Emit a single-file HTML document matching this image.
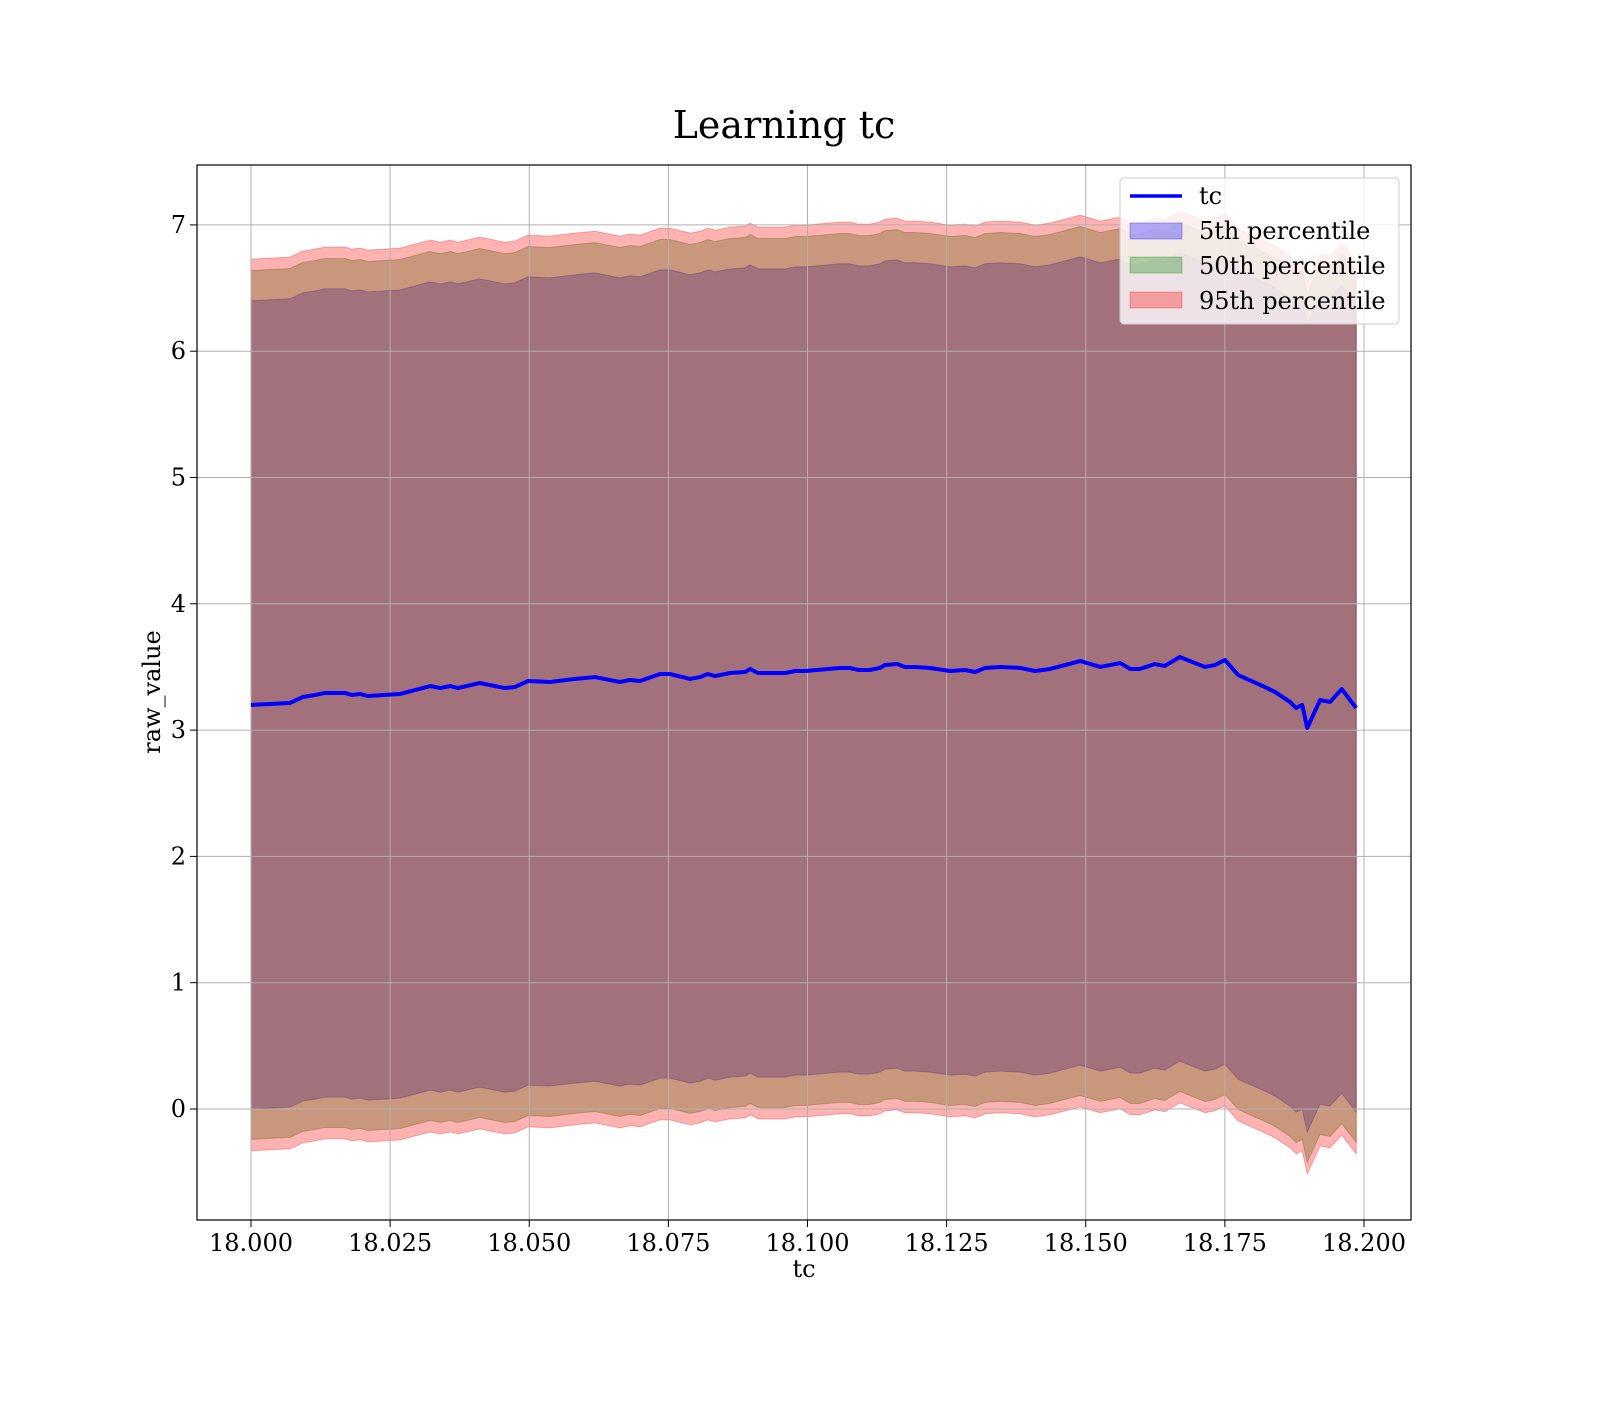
<!DOCTYPE html>
<html><head><meta charset="utf-8"><style>
body{margin:0;background:#fff}
svg text{font-family:"DejaVu Serif","Liberation Serif",serif;fill:#000}
</style></head><body>
<svg id="chart" width="1600" height="1400">
<text x="784" y="138" text-anchor="middle" font-size="38">Learning tc</text>
<g id="bands"></g>
<g id="grid"></g>
<g id="lines"></g>
<rect x="197" y="165" width="1214" height="1055" fill="none" stroke="#000" stroke-width="1.2"/>
<g id="ticks"></g>
<text x="804" y="1277" text-anchor="middle" font-size="24">tc</text>
<text transform="translate(160,692) rotate(-90)" text-anchor="middle" font-size="24">raw_value</text>
<g>
<rect x="1120" y="178" width="279" height="146" rx="4" fill="#fff" fill-opacity="0.8" stroke="#ccc"/>
<line x1="1130" y1="196" x2="1182" y2="196" stroke="#0000ff" stroke-width="3.5"/>
<text x="1199" y="204" font-size="24">tc</text>
<rect x="1130" y="223" width="52" height="16" fill="#0000ff" fill-opacity="0.3" stroke="#0000ff" stroke-opacity="0.3"/>
<text x="1199" y="239" font-size="24">5th percentile</text>
<rect x="1130" y="257" width="52" height="16" fill="#008000" fill-opacity="0.3" stroke="#008000" stroke-opacity="0.3"/>
<text x="1199" y="274" font-size="24">50th percentile</text>
<rect x="1130" y="292" width="52" height="16" fill="#ff0000" fill-opacity="0.3" stroke="#ff0000" stroke-opacity="0.3"/>
<text x="1199" y="309" font-size="24">95th percentile</text>
</g>
</svg>
<script>
const tcX=[18.0000,18.0034,18.0070,18.0093,18.0115,18.0133,18.0169,18.0181,18.0196,18.0210,18.0268,18.0322,18.0340,18.0358,18.0372,18.0411,18.0456,18.0474,18.0498,18.0537,18.0582,18.0618,18.0663,18.0681,18.0699,18.0735,18.0753,18.0789,18.0807,18.0821,18.0834,18.0861,18.0888,18.0897,18.0911,18.0960,18.0978,18.0996,18.1058,18.1076,18.1091,18.1112,18.1130,18.1139,18.1161,18.1175,18.1193,18.1220,18.1256,18.1283,18.1301,18.1319,18.1346,18.1382,18.1409,18.1436,18.1490,18.1526,18.1562,18.1580,18.1597,18.1624,18.1642,18.1669,18.1714,18.1732,18.1750,18.1774,18.1822,18.1840,18.1867,18.1878,18.1889,18.1898,18.1921,18.1939,18.1960,18.1986];
const tcY=[3.199,3.207,3.215,3.262,3.278,3.294,3.294,3.278,3.286,3.270,3.286,3.349,3.333,3.349,3.333,3.373,3.333,3.341,3.389,3.381,3.405,3.420,3.381,3.397,3.389,3.444,3.444,3.405,3.420,3.444,3.428,3.452,3.460,3.484,3.452,3.452,3.468,3.468,3.492,3.492,3.476,3.476,3.492,3.515,3.523,3.500,3.500,3.492,3.468,3.476,3.460,3.492,3.500,3.492,3.468,3.484,3.547,3.500,3.531,3.484,3.484,3.523,3.508,3.579,3.500,3.515,3.555,3.436,3.341,3.302,3.223,3.175,3.199,3.017,3.238,3.223,3.325,3.175];
const bandNames=["5th","50th","95th"];
const bandHalfWidths=[3.2,3.44,3.53];
const bandColors=["#0000ff","#008000","#ff0000"];
const xTicks=[18.000,18.025,18.050,18.075,18.100,18.125,18.150,18.175,18.200];
const yTicks=[0,1,2,3,4,5,6,7];
const sx=v=>251+(v-18)*5565;
const sy=v=>1109-v*126.3;
const NS="http://www.w3.org/2000/svg";
function mk(tag,attrs,parent){const e=document.createElementNS(NS,tag);for(const k in attrs)e.setAttribute(k,attrs[k]);parent.appendChild(e);return e;}
const grid=document.getElementById('grid'),ticks=document.getElementById('ticks');
xTicks.forEach(t=>{
 const l=mk('line',{x1:sx(t),x2:sx(t),y1:165,y2:1220,stroke:'#b0b0b0','stroke-width':1},grid);
 
 
 const tk=mk('line',{x1:sx(t),x2:sx(t),y1:1220,y2:1227,stroke:'#000'},ticks);
 
 
 const tx=mk('text',{x:sx(t),y:1251,'text-anchor':'middle','font-size':24},ticks);
 tx.textContent=t.toFixed(3);
 
 
});
yTicks.forEach(t=>{
 const l=mk('line',{x1:197,x2:1411,y1:sy(t),y2:sy(t),stroke:'#b0b0b0','stroke-width':1},grid);
 
 
 const tk=mk('line',{x1:190,x2:197,y1:sy(t),y2:sy(t),stroke:'#000'},ticks);
 
 
 const tx=mk('text',{x:186,y:sy(t)+8,'text-anchor':'end','font-size':24},ticks);
 tx.textContent=String(t);
 
 
});
const bands=document.getElementById('bands');
bandNames.forEach((n,i)=>{
 let d='';
 tcX.forEach((x,j)=>{d+=(j?'L':'M')+sx(x)+','+sy(tcY[j]+bandHalfWidths[i]);});
 for(let j=tcX.length-1;j>=0;j--)d+='L'+sx(tcX[j])+','+sy(tcY[j]-bandHalfWidths[i]);
 const p=mk('path',{d:d+'Z',fill:bandColors[i],'fill-opacity':0.3,stroke:bandColors[i],'stroke-opacity':0.3},bands);
 
 
});
const pts=tcX.map((x,j)=>sx(x)+','+sy(tcY[j])).join(' ');
const pl=mk('polyline',{points:pts,fill:'none',stroke:'#0000ff','stroke-width':4,'stroke-linejoin':'round'},document.getElementById('lines'));


</script>
</body></html>
